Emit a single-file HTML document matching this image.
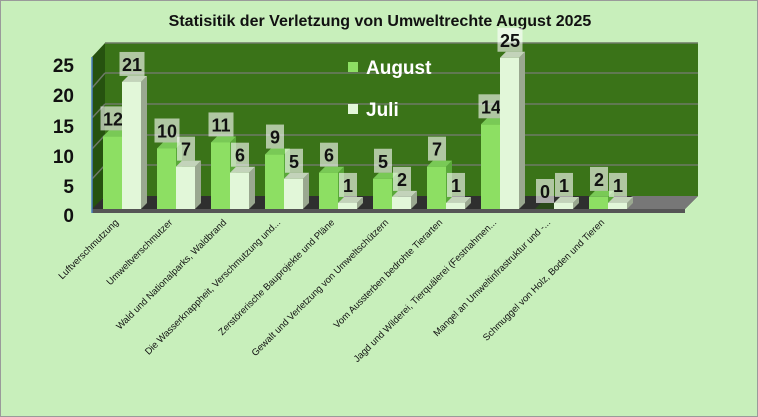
<!DOCTYPE html>
<html><head><meta charset="utf-8"><style>
html,body{margin:0;padding:0;background:#c8efbb;}
svg{display:block;font-family:"Liberation Sans",sans-serif;}
</style></head><body>
<svg width="758" height="417" viewBox="0 0 758 417" xmlns="http://www.w3.org/2000/svg">
<rect x="0.5" y="0.5" width="757" height="416" fill="#c8efbb" stroke="#9a9a9a"/>
<text x="380" y="26" text-anchor="middle" font-size="16" font-weight="bold" fill="#111">Statisitik der Verletzung von Umweltrechte  August 2025</text>
<polygon points="92,57 105,43 105,196 92,210" fill="#26520f"/>
<rect x="105" y="43" width="593" height="153" fill="#3a7318"/>
<g stroke="#6d7a66" stroke-width="1.5">
<line x1="105" y1="43" x2="698" y2="43"/>
<line x1="105" y1="73" x2="698" y2="73"/>
<line x1="105" y1="104" x2="698" y2="104"/>
<line x1="105" y1="135" x2="698" y2="135"/>
<line x1="105" y1="165" x2="698" y2="165"/>
<line x1="92" y1="88" x2="105" y2="73"/>
<line x1="92" y1="118" x2="105" y2="104"/>
<line x1="92" y1="149" x2="105" y2="135"/>
<line x1="92" y1="179" x2="105" y2="165"/>
</g>
<polygon points="92,209 105,196 698,196 685,209" fill="#2f2f2f"/>
<polygon points="620,209 632,196 698,196 685,209" fill="#777"/>
<rect x="92" y="209" width="593" height="4" fill="#555"/>
<line x1="92" y1="57" x2="92" y2="213" stroke="#4a7fbf" stroke-width="1.5"/>
<g font-size="19" font-weight="bold" fill="#111" text-anchor="end">
<text x="74" y="72">25</text><text x="74" y="102">20</text><text x="74" y="133">15</text><text x="74" y="163">10</text><text x="74" y="193">5</text><text x="74" y="222">0</text>
</g>
<rect x="348" y="62" width="10" height="10" fill="#8ddf63"/>
<text x="366" y="74" font-size="19" font-weight="bold" fill="#fff">August</text>
<rect x="348" y="104" width="10" height="10" fill="#e2f7d9"/>
<text x="366" y="116" font-size="19" font-weight="bold" fill="#fff">Juli</text>
<g id="bars"></g>
<g id="xl" font-size="9.5" fill="#111"></g>
</svg>
<script>
var A=[12,10,11,9,6,5,7,14,0,2],J=[21,7,6,5,1,2,1,25,1,1];
var L=["Luftverschmutzung","Umweltverschmutzer","Wald und Nationalparks, Waldbrand","Die Wasserknappheit, Verschmutzung und...","Zerstörerische Bauprojekte und Pläne","Gewalt und Verletzung von Umweltschützern","Vom Aussterben bedrohte Tierarten","Jagd und Wilderei, Tierquälerei (Festnahmen...","Mangel an Umweltinfrastruktur und -...","Schmuggel von Holz, Boden und Tieren"];
var s="",t="",B=209,k=6.05,d=6;
function bar(x,v,f,top,side){var h=v*k,y=B-h;var o="";
if(v>0){o+='<polygon points="'+(x+19)+','+B+' '+(x+19+d)+','+(B-d)+' '+(x+19+d)+','+(y-d)+' '+(x+19)+','+y+'" fill="'+side+'"/>';
o+='<polygon points="'+x+','+y+' '+(x+d)+','+(y-d)+' '+(x+19+d)+','+(y-d)+' '+(x+19)+','+y+'" fill="'+top+'"/>';
o+='<rect x="'+x+'" y="'+y+'" width="19" height="'+h+'" fill="'+f+'"/>';}
else{o+='<polygon points="'+x+','+B+' '+(x+d)+','+(B-d)+' '+(x+19+d)+','+(B-d)+' '+(x+19)+','+B+'" fill="#2a4a1a"/>';}
var lw=(String(v).length>1?25:18),cx=x+10;
o+='<rect x="'+(cx-lw/2)+'" y="'+(y-30)+'" width="'+lw+'" height="24" fill="#fff" fill-opacity="0.6"/>';
o+='<text x="'+cx+'" y="'+(y-11)+'" text-anchor="middle" font-size="18" font-weight="bold" fill="#111">'+v+'</text>';return o;}
for(var i=0;i<10;i++){var x=103+54*i;
s+=bar(x,A[i],"#8ddf63","#79c956","#5aa83a");
s+=bar(x+19,J[i],"#e2f7d9","#c3d3ba","#9aa890");
var cx=x+16;t+='<text transform="translate('+cx+',223) rotate(-45)" text-anchor="end">'+L[i]+'</text>';}
document.getElementById("bars").innerHTML=s;document.getElementById("xl").innerHTML=t;
</script>
</body></html>
